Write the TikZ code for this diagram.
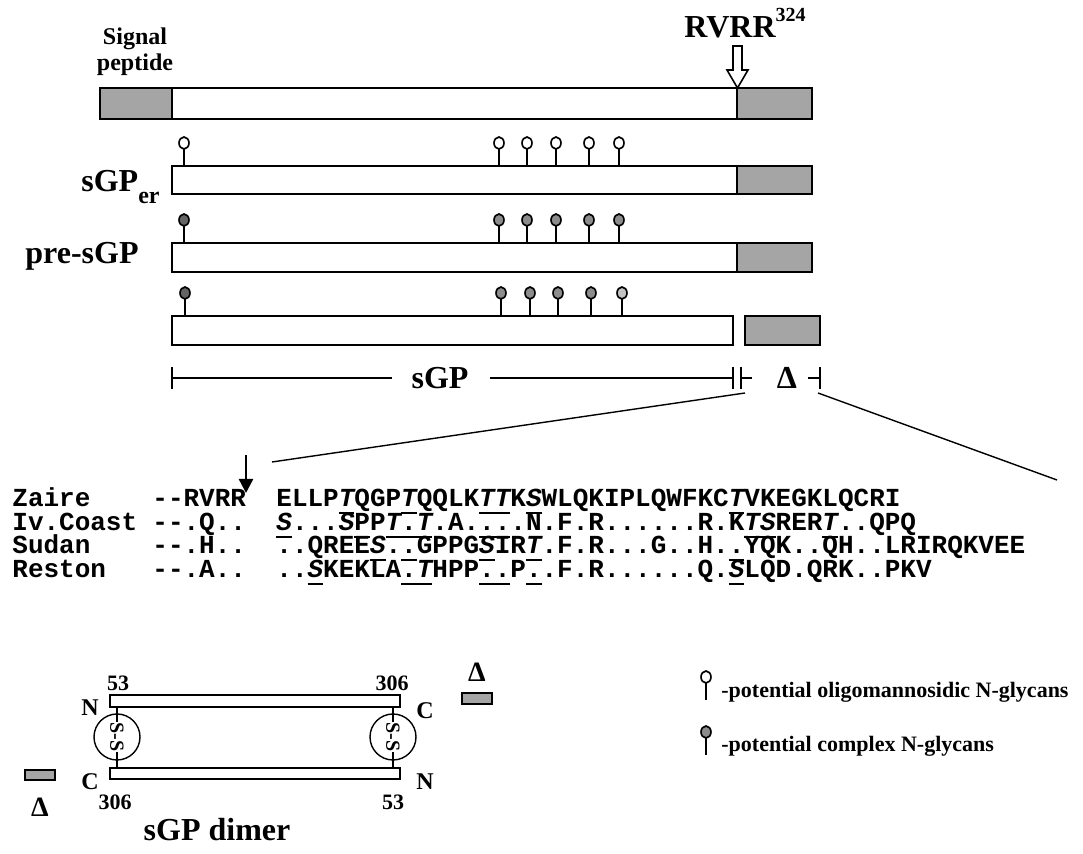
\documentclass[tikz,border=0pt]{standalone}
\usepackage{fontspec}
\setmainfont{Liberation Serif}
\setmonofont{Liberation Mono}
\usetikzlibrary{arrows.meta, positioning, calc}

\definecolor{cutgray}{RGB}{165,165,165}
\definecolor{cplxdark}{RGB}{100,100,100}
\definecolor{cplx}{RGB}{140,140,140}
\definecolor{cplxlight}{RGB}{195,195,195}

\tikzset{
  >=Latex,
  % domini della proteina
  dom/.style={draw, line width=0.9pt, fill=white},
  dom cut/.style={dom, fill=cutgray},
  % glicani
  stem/.style={line width=0.8pt},
  glyc/.style={draw, line width=0.8pt},
  % testi
  big/.style={font=\bfseries\fontsize{16}{18}\selectfont, inner sep=0pt},
  mid/.style={font=\bfseries\fontsize{12}{14}\selectfont, inner sep=0pt},
  small/.style={font=\bfseries\fontsize{11}{13}\selectfont, inner sep=0pt},
  seq/.style={font=\ttfamily\bfseries\fontsize{13}{15}\selectfont, inner sep=0pt, anchor=base west},
  bracket/.style={line width=0.6pt},
  zoomline/.style={line width=0.7pt},
}

% residuo in corsivo, tratto sotto n residui
\newcommand{\I}[1]{{\itshape #1}}
\newcommand{\mk}[2]{\rlap{\rule[-0.26em]{\dimexpr0.6em*#1\relax}{0.08em}}#2}
% glicano: x, y barra, y cerchio, colore
\newcommand{\pin}[4]{%
  \draw[stem] (#1,#2) -- (#1,#3+6);
  \draw[glyc, fill=#4] (#1,#3) circle[x radius=5, y radius=6];}

\begin{document}
\begin{tikzpicture}[x=0.5pt, y=-0.5pt]
  \useasboundingbox[fill=white] (0,0) rectangle (1083,854);

  % precursore
  \node[small, align=center, font=\bfseries\fontsize{12}{13}\selectfont] (signal) at (135,52) {Signal\\peptide};
  \node[big, anchor=base] (rvrr) at (745,38) {RVRR\raisebox{0.5em}{\fontsize{10}{10}\selectfont 324}};
  \draw[dom cut] (100,88) rectangle (172,119);
  \draw[dom] (172,88) rectangle (737,119);
  \draw[dom cut] (737,88) rectangle (812,119);
  \draw[line width=0.8pt, fill=white] (733,46) -- (742,46) -- (742,70) -- (748,70)
    -- (737.5,88) -- (727,70) -- (733,70) -- cycle;

  % sGPer
  \node[big, anchor=base east] (ser) at (160,192) {sGP\raisebox{-0.35em}{\fontsize{12}{12}\selectfont er}};
  \draw[dom] (172,166) rectangle (737,194);
  \draw[dom cut] (737,166) rectangle (812,194);
  \foreach \x in {184,499,527,556,589,619} {\pin{\x}{166}{143}{white}}

  % pre-sGP
  \node[big, anchor=base west] (pre) at (25,264) {pre-sGP};
  \draw[dom] (172,243) rectangle (737,272);
  \draw[dom cut] (737,243) rectangle (812,272);
  \pin{184}{243}{220}{cplxdark}
  \foreach \x in {499,527,556,589,619} {\pin{\x}{243}{220}{cplx}}

  % sGP + delta
  \draw[dom] (172,316) rectangle (733,345);
  \draw[dom cut] (745,316) rectangle (820,345);
  \pin{185}{316}{293}{cplxdark}
  \foreach \x in {501,530,558,591} {\pin{\x}{316}{293}{cplx}}
  \pin{622}{316}{293}{cplxlight}

  % parentesi
  \node[big] (sgp) at (440,378) {sGP};
  \node[big] (delta) at (787,378) {Δ};
  \draw[bracket] (172,367) -- (172,389) (172,378) -- (392,378);
  \draw[bracket] (490,378) -- (733,378) (733,367) -- (733,389);
  \draw[bracket] (741,367) -- (741,389) (741,378) -- (752,378);
  \draw[bracket] (808,378) -- (820,378) (820,367) -- (820,389);

  % ingrandimento
  \coordinate (dL) at (745,393);
  \coordinate (dR) at (818,393);
  \coordinate (sL) at (272,462);
  \coordinate (sR) at (1057,480);
  \draw[zoomline] (dL) -- (sL);
  \draw[zoomline] (dR) -- (sR);
  \coordinate (cuttop) at (246,455);
  \coordinate (cutend) at (246,493);
  \draw[line width=1.2pt, -{Triangle[width=7pt,length=7pt]}] (cuttop) -- (cutend);

  % allineamento
  \node[seq] (zN) at (12,507) {Zaire};
  \node[seq] (zP) at (152,507) {-{}-RVRR};
  \node[seq] (zS) at (276,507) {ELLP\mk1{\I T}QGP\mk1{\I T}QQLK\mk2{\I{TT}}K\mk1{\I S}WLQKIPLQWFKC\mk1{\I T}VKEGKLQCRI};
  \node[seq] (iN) at (12,531) {Iv.Coast};
  \node[seq] (iP) at (152,531) {-{}-.Q..};
  \node[seq] (iS) at (276,531) {\mk1{\I S}...\I S\mk1{P}P\mk3{\I T.\I T}.A.\mk2{..}.N.F.R......R.K\mk2{\I{TS}}RER\mk1{\I T}..QPQ};
  \node[seq] (sN) at (12,554) {Sudan};
  \node[seq] (sP) at (152,554) {-{}-.H..};
  \node[seq] (sS) at (276,554) {..QREE\mk1{\I S}.\mk1{.}GPPG\mk1{\I S}IR\mk1{\I T}.F.R...G..H.\mk1{.}YQK..QH..LRIRQKVEE};
  \node[seq] (rN) at (12,578) {Reston};
  \node[seq] (rP) at (152,578) {-{}-.A..};
  \node[seq] (rS) at (276,578) {..\mk1{\I S}KEKLA\mk2{.\I T}HPP\mk2{..}P\mk1{.}.F.R......Q.\mk1{\I S}LQD.QRK..PKV};

  % dimero
  \draw[dom, line width=0.8pt] (110,695) rectangle (400,707);
  \draw[dom, line width=0.8pt] (110,768) rectangle (400,779);
  \foreach \x/\n in {117/ssL,393/ssR} {
    \draw[line width=0.7pt] (\x,707) -- (\x,768);
    \draw[line width=0.7pt] (\x,737) circle[radius=23];
    \node[font=\bfseries\fontsize{10}{10}\selectfont, rotate=-90, fill=white, inner sep=0.3pt] (\n) at (\x,737) {S-S};
  }
  \node[small] (t53) at (118,683) {53};
  \node[small] (t306) at (392,683) {306};
  \node[mid] (nL) at (90,708) {N};
  \node[mid] (cR) at (425,711) {C};
  \node[mid] (cL) at (90,782) {C};
  \node[mid] (nR) at (425,782) {N};
  \node[small] (b306) at (115,802) {306};
  \node[small] (b53) at (393,802) {53};
  \node[font=\bfseries\fontsize{14}{14}\selectfont, inner sep=0pt] (dT) at (477,672) {Δ};
  \draw[dom cut, line width=0.7pt] (462,693) rectangle (492,704);
  \node[font=\bfseries\fontsize{14}{14}\selectfont, inner sep=0pt] (dB) at (40,807) {Δ};
  \draw[dom cut, line width=0.7pt] (25,770) rectangle (55,780);
  \node[big] (dimer) at (217,830) {sGP dimer};

  % legenda
  \pin{706}{700}{677}{white}
  \node[small, anchor=west] (oligo) at (721,692) {-potential oligomannosidic N-glycans};
  \pin{706}{755}{732}{cplx}
  \node[small, anchor=west] (cplxtxt) at (721,746) {-potential complex N-glycans};
\end{tikzpicture}
\end{document}
